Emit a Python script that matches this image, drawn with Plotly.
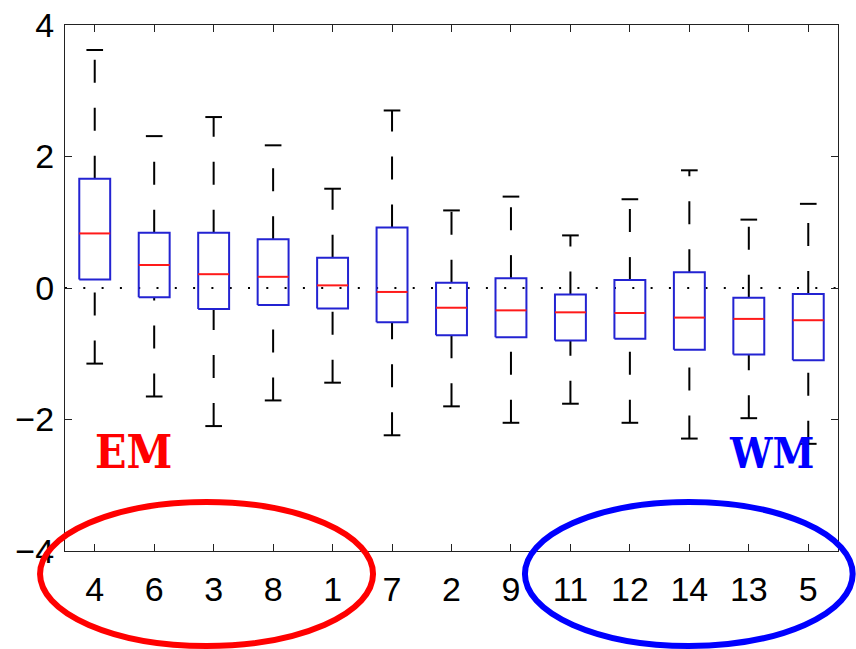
import plotly.graph_objects as go

# ---- data ----
categories = ["4", "6", "3", "8", "1", "7", "2", "9", "11", "12", "14", "13", "5"]
upper_whisker = [3.62, 2.31, 2.60, 2.17, 1.51, 2.70, 1.18, 1.39, 0.80, 1.35, 1.79, 1.04, 1.28]
q3 = [1.66, 0.84, 0.84, 0.74, 0.46, 0.92, 0.08, 0.15, -0.10, 0.12, 0.24, -0.15, -0.09]
median = [0.83, 0.35, 0.21, 0.17, 0.04, -0.06, -0.30, -0.34, -0.37, -0.38, -0.45, -0.47, -0.49]
q1 = [0.13, -0.14, -0.32, -0.26, -0.31, -0.52, -0.72, -0.75, -0.80, -0.77, -0.94, -1.01, -1.10]
lower_whisker = [-1.15, -1.65, -2.10, -1.71, -1.44, -2.24, -1.80, -2.05, -1.76, -2.05, -2.29, -1.98, -2.37]
y_ticks = [-4, -2, 0, 2, 4]

positions = list(range(1, len(categories) + 1))
BOX_HALF = 0.26
CAP_HALF = 0.14

box_x, box_y = [], []
med_x, med_y = [], []
wh_x, wh_y = [], []
cap_x, cap_y = [], []
for p, lo, a, m, b, hi in zip(positions, lower_whisker, q1, median, q3, upper_whisker):
    box_x += [p - BOX_HALF, p + BOX_HALF, p + BOX_HALF, p - BOX_HALF, p - BOX_HALF, None]
    box_y += [a, a, b, b, a, None]
    med_x += [p - BOX_HALF, p + BOX_HALF, None]
    med_y += [m, m, None]
    # whiskers drawn bottom -> top (dash phase like MATLAB)
    wh_x += [p, p, None, p, p, None]
    wh_y += [b, hi, None, lo, a, None]
    cap_x += [p - CAP_HALF, p + CAP_HALF, None, p - CAP_HALF, p + CAP_HALF, None]
    cap_y += [hi, hi, None, lo, lo, None]

fig = go.Figure()
fig.add_trace(go.Scatter(x=[0.5, 13.5], y=[0, 0], mode="lines",
                         line=dict(color="black", width=2, dash="2px,16.3px"),
                         hoverinfo="skip", showlegend=False))
fig.add_trace(go.Scatter(x=wh_x, y=wh_y, mode="lines",
                         line=dict(color="black", width=2, dash="23px,25px"),
                         hoverinfo="skip", showlegend=False))
fig.add_trace(go.Scatter(x=cap_x, y=cap_y, mode="lines",
                         line=dict(color="black", width=2),
                         hoverinfo="skip", showlegend=False))
fig.add_trace(go.Scatter(x=box_x, y=box_y, mode="lines",
                         line=dict(color="#2323d2", width=2),
                         hoverinfo="skip", showlegend=False))
fig.add_trace(go.Scatter(x=med_x, y=med_y, mode="lines",
                         line=dict(color="#ff1a1a", width=2),
                         hoverinfo="skip", showlegend=False))

tickfont = dict(family="Liberation Sans, Arial, Helvetica, sans-serif", size=34, color="black")

fig.update_layout(
    width=856, height=649,
    margin=dict(l=65, r=18, t=25, b=98, autoexpand=False),
    paper_bgcolor="white", plot_bgcolor="white",
    showlegend=False,
    xaxis=dict(range=[0.5, 13.5], tickvals=positions, ticktext=categories,
               ticks="inside", ticklen=7, tickwidth=1.3, tickcolor="#222",
               showline=True, linecolor="#222", linewidth=1.3, mirror="ticks",
               showgrid=False, zeroline=False, tickfont=tickfont, automargin=False,
               ticklabelstandoff=8, ticklabeloverflow="allow"),
    yaxis=dict(range=[-4, 4], tickvals=y_ticks,
               ticks="inside", ticklen=7, tickwidth=1.3, tickcolor="#222",
               showline=True, linecolor="#222", linewidth=1.3, mirror="ticks",
               showgrid=False, zeroline=False, tickfont=tickfont, automargin=False,
               ticklabelstandoff=3, ticklabeloverflow="allow"),
)

# ellipses highlighting groups (paper coordinates so they may leave the plot area)
fig.add_shape(type="circle", xref="paper", yref="paper",
              x0=-0.0323, x1=0.3985, y0=-0.1806, y1=0.0932,
              line=dict(color="#ff0000", width=6), layer="above")
fig.add_shape(type="circle", xref="paper", yref="paper",
              x0=0.595, x1=1.019, y0=-0.1806, y1=0.0932,
              line=dict(color="#0000ff", width=6), layer="above")

labfont = "DejaVu Serif Condensed, DejaVu Serif, serif"
fig.add_annotation(x=1.65, y=-2.49, xref="x", yref="y", text="<b>EM</b>",
                   showarrow=False, font=dict(family=labfont, size=46, color="#ff0000"))
fig.add_annotation(x=12.38, y=-2.52, xref="x", yref="y", text="<b>WM</b>",
                   showarrow=False, font=dict(family=labfont, size=42, color="#0000ff"))

# remove the default 8px body margin so the 856x649 figure fills the window exactly
fig.write_html("out.html", config={"displayModeBar": False},
               post_script="document.body.style.margin='0px';")
